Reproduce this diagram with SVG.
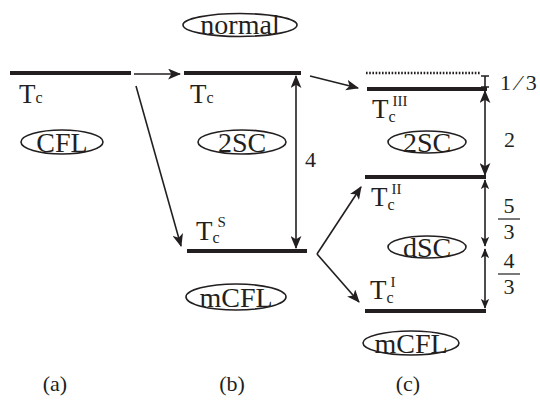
<svg xmlns="http://www.w3.org/2000/svg" width="540" height="407" viewBox="0 0 540 407" font-family="'Liberation Serif', 'Times New Roman', Times, serif">
<style>
text{font-family:'Liberation Serif','Times New Roman',Times,serif;fill:#231f20}
.lv{stroke:#231f20;stroke-width:4;fill:none}
.ar{stroke:#231f20;stroke-width:1.6;fill:none}
.el{stroke:#231f20;stroke-width:1.6;fill:none}
.big{font-size:27px}
.sub{font-size:16px}
.sup{font-size:15px}
.lab{font-size:28px}
.num{font-size:22px}
.cap{font-size:22px}
</style>
<defs>
<marker id="ah" viewBox="0 0 12 10" refX="11" refY="5" markerWidth="13" markerHeight="11" markerUnits="userSpaceOnUse" orient="auto-start-reverse">
<path d="M0,0 L12,5 L0,10 L3,5 Z" fill="#231f20"/>
</marker>
<marker id="ahs" viewBox="0 0 12 10" refX="11" refY="5" markerWidth="10" markerHeight="9" markerUnits="userSpaceOnUse" orient="auto-start-reverse">
<path d="M0,0 L12,5 L0,10 L3,5 Z" fill="#231f20"/>
</marker>
</defs>
<g id="connectors">
<line class="ar" x1="134" y1="74" x2="180" y2="74" marker-end="url(#ah)"/>
<line class="ar" x1="136" y1="86" x2="181" y2="246" marker-end="url(#ah)"/>
<line class="ar" x1="310" y1="76" x2="358" y2="88" marker-end="url(#ah)"/>
<line class="ar" x1="296" y1="76" x2="296" y2="248" marker-start="url(#ah)" marker-end="url(#ah)"/>
<line class="ar" x1="317" y1="254" x2="361" y2="187" marker-end="url(#ah)"/>
<line class="ar" x1="317" y1="254" x2="359" y2="302" marker-end="url(#ah)"/>
<line class="ar" x1="485" y1="91" x2="485" y2="175" marker-start="url(#ah)" marker-end="url(#ah)"/>
<line class="ar" x1="485" y1="180" x2="485" y2="246" marker-start="url(#ahs)" marker-end="url(#ahs)"/>
<line class="ar" x1="485" y1="249" x2="485" y2="308" marker-start="url(#ahs)" marker-end="url(#ahs)"/>
<path class="ar" d="M485,76 V87 M481,76 H489 M481,87 H489" stroke-width="1"/>
</g>
<g id="normal"><ellipse class="el" cx="240" cy="25" rx="57" ry="11.5"/><text class="lab" x="240" y="34" text-anchor="middle">normal</text></g>
<g id="level-a"><line class="lv" x1="10" y1="73" x2="131" y2="73"/><text x="19" y="103"><tspan class="big">T</tspan><tspan class="sub">c</tspan></text></g>
<g id="cfl"><ellipse class="el" cx="62" cy="142" rx="41" ry="12"/><text class="lab" x="62" y="151.5" text-anchor="middle">CFL</text></g>
<g id="level-b"><line class="lv" x1="184" y1="73" x2="301" y2="73"/><text x="190" y="103"><tspan class="big">T</tspan><tspan class="sub">c</tspan></text></g>
<g id="2sc-b"><ellipse class="el" cx="242" cy="142" rx="44" ry="12"/><text class="lab" x="242" y="151.5" text-anchor="middle">2SC</text></g>
<g id="label-4"><text class="num" x="305" y="167">4</text></g>
<g id="level-bs"><line class="lv" x1="187" y1="251" x2="307" y2="251"/><text x="196" y="240"><tspan class="big">T</tspan><tspan class="sub" dy="3">c</tspan><tspan class="sup" dx="-2" dy="-16">S</tspan></text></g>
<g id="mcfl-b"><ellipse class="el" cx="236" cy="297" rx="50" ry="13"/><text class="lab" x="236" y="306.5" text-anchor="middle">mCFL</text></g>
<g id="level-c0"><line x1="366" y1="73" x2="480" y2="73" stroke="#231f20" stroke-width="2.5" stroke-dasharray="1.6,1.6"/></g>
<g id="label-13"><text class="num" x="500" y="90">1 ⁄ 3</text></g>
<g id="level-c3"><line class="lv" x1="367" y1="89" x2="487" y2="89"/><text x="372" y="118"><tspan class="big">T</tspan><tspan class="sub" dy="4">c</tspan><tspan class="sup" dx="-3" dy="-16">III</tspan></text></g>
<g id="2sc-c"><ellipse class="el" cx="427" cy="142" rx="39" ry="11"/><text class="lab" x="427" y="151.5" text-anchor="middle">2SC</text></g>
<g id="label-2"><text class="num" x="504" y="147">2</text></g>
<g id="level-c2"><line class="lv" x1="365" y1="177" x2="486" y2="177"/><text x="371" y="206"><tspan class="big">T</tspan><tspan class="sub" dy="4">c</tspan><tspan class="sup" dx="-3" dy="-16">II</tspan></text></g>
<g id="label-53"><text class="num" x="509" y="213" text-anchor="middle">5</text><line x1="498" y1="219" x2="520" y2="219" stroke="#231f20" stroke-width="1.2"/><text class="num" x="509" y="239" text-anchor="middle">3</text></g>
<g id="dsc"><ellipse class="el" cx="427" cy="247" rx="39" ry="11"/><text class="lab" x="427" y="256.5" text-anchor="middle">dSC</text></g>
<g id="label-43"><text class="num" x="509" y="268" text-anchor="middle">4</text><line x1="498" y1="274" x2="520" y2="274" stroke="#231f20" stroke-width="1.2"/><text class="num" x="509" y="294" text-anchor="middle">3</text></g>
<g id="level-c1"><line class="lv" x1="365" y1="311" x2="486" y2="311"/><text x="370" y="299"><tspan class="big">T</tspan><tspan class="sub" dy="4">c</tspan><tspan class="sup" dx="-3" dy="-16">I</tspan></text></g>
<g id="mcfl-c"><ellipse class="el" cx="411" cy="343" rx="48" ry="12"/><text class="lab" x="411" y="352.5" text-anchor="middle">mCFL</text></g>
<g id="captions"><text class="cap" x="55" y="391" text-anchor="middle">(a)</text><text class="cap" x="232" y="391" text-anchor="middle">(b)</text><text class="cap" x="408" y="391" text-anchor="middle">(c)</text></g>
</svg>
